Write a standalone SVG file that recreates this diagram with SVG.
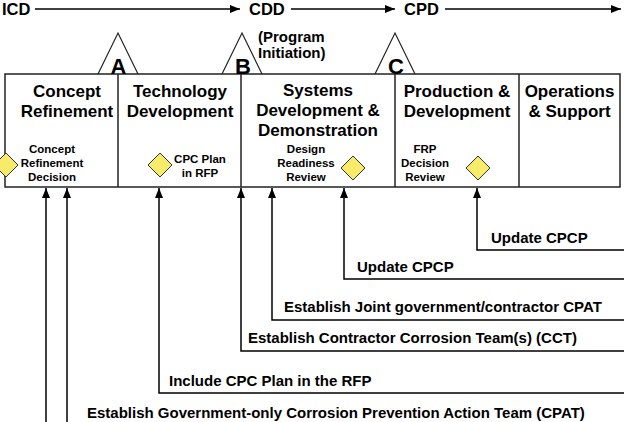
<svg xmlns="http://www.w3.org/2000/svg" width="624" height="422" viewBox="0 0 624 422">
<defs>
<marker id="ah" markerUnits="userSpaceOnUse" markerWidth="10" markerHeight="10" viewBox="0 0 10 10" refX="10" refY="5" orient="auto">
<path d="M0,1 L10,5 L0,9 Z" fill="#000"/>
</marker>
<style>
text{font-family:"Liberation Sans",Arial,sans-serif;font-weight:bold;fill:#000}
.big{font-size:17px;text-anchor:middle}
.sm{font-size:11.5px;text-anchor:middle}
.lbl{font-size:15px}
.top{font-size:16.5px}
.ms{font-size:22px;text-anchor:middle}
.box{fill:#fff;stroke:#222;stroke-width:1.5}
.div{stroke:#222;stroke-width:1.5;fill:none}
.tri{fill:none;stroke:#222;stroke-width:1.2}
.dia{fill:#F9EB6A;stroke:#333;stroke-width:1}
.con{fill:none;stroke:#000;stroke-width:1.5}
.tl{fill:none;stroke:#000;stroke-width:1.3}
</style>
</defs>
<rect width="624" height="422" fill="#fff"/>

<g id="timeline">
<text class="top" x="2" y="15">ICD</text>
<line class="tl" x1="35" y1="9" x2="240" y2="9" marker-end="url(#ah)"/>
<text class="top" x="249" y="15">CDD</text>
<line class="tl" x1="291" y1="9" x2="395" y2="9" marker-end="url(#ah)"/>
<text class="top" x="404" y="15">CPD</text>
<line class="tl" x1="445" y1="9" x2="621" y2="9" marker-end="url(#ah)"/>
</g>

<g id="phases">
<rect class="box" x="5" y="74" width="615" height="113"/>
<line class="div" x1="118" y1="74" x2="118" y2="187"/>
<line class="div" x1="241" y1="74" x2="241" y2="187"/>
<line class="div" x1="395" y1="74" x2="395" y2="187"/>
<line class="div" x1="519" y1="74" x2="519" y2="187"/>
</g>

<g id="milestone-A">
<polyline class="tri" points="98,74 118,33 138,74"/>
<text class="ms" x="118.5" y="74">A</text>
</g>
<g id="milestone-B">
<polyline class="tri" points="222,74 242,33 262,74"/>
<text class="ms" x="243" y="74">B</text>
<text class="lbl" x="258" y="42">(Program</text>
<text class="lbl" x="258" y="58">Initiation)</text>
</g>
<g id="milestone-C">
<polyline class="tri" points="375,74 395,33 415,74"/>
<text class="ms" x="396" y="74">C</text>
</g>

<g id="concept-refinement">
<text class="big" x="67" y="97">Concept</text>
<text class="big" x="67" y="117">Refinement</text>
<polygon class="dia" points="6,153 18,165 6,177 -6,165"/>
<text class="sm" x="52" y="153">Concept</text>
<text class="sm" x="52" y="167">Refinement</text>
<text class="sm" x="52" y="181">Decision</text>
</g>

<g id="technology-development">
<text class="big" x="180" y="97">Technology</text>
<text class="big" x="180" y="117">Development</text>
<polygon class="dia" points="160,153 172,165 160,177 148,165"/>
<text class="sm" x="200" y="163">CPC Plan</text>
<text class="sm" x="200" y="177">in RFP</text>
</g>

<g id="systems-development">
<text class="big" x="318" y="96">Systems</text>
<text class="big" x="318" y="116">Development &amp;</text>
<text class="big" x="318" y="136">Demonstration</text>
<polygon class="dia" points="353,156 365,168 353,180 341,168"/>
<text class="sm" x="306" y="153">Design</text>
<text class="sm" x="306" y="167">Readiness</text>
<text class="sm" x="306" y="181">Review</text>
</g>

<g id="production-development">
<text class="big" x="457" y="97">Production &amp;</text>
<text class="big" x="457" y="117">Development</text>
<polygon class="dia" points="478,156 490,168 478,180 466,168"/>
<text class="sm" x="425" y="153">FRP</text>
<text class="sm" x="425" y="167">Decision</text>
<text class="sm" x="425" y="181">Review</text>
</g>

<g id="operations-support">
<text class="big" x="569.5" y="97">Operations</text>
<text class="big" x="569.5" y="117">&amp; Support</text>
</g>

<g id="connectors">
<path class="con" d="M624,250 H477 V188" marker-end="url(#ah)"/>
<path class="con" d="M624,279 H344 V188" marker-end="url(#ah)"/>
<path class="con" d="M624,320 H272 V188" marker-end="url(#ah)"/>
<path class="con" d="M624,351 H241 V188" marker-end="url(#ah)"/>
<path class="con" d="M624,393 H159 V188" marker-end="url(#ah)"/>
<path class="con" d="M67,430 V188" marker-end="url(#ah)"/>
<path class="con" d="M46,430 V188" marker-end="url(#ah)"/>
</g>

<g id="labels">
<text class="lbl" x="491" y="243">Update CPCP</text>
<text class="lbl" x="357" y="272">Update CPCP</text>
<text class="lbl" x="284" y="312">Establish Joint government/contractor CPAT</text>
<text class="lbl" x="248" y="343">Establish Contractor Corrosion Team(s) (CCT)</text>
<text class="lbl" x="169" y="386">Include CPC Plan in the RFP</text>
<text class="lbl" x="87" y="417.5">Establish Government-only Corrosion Prevention Action Team (CPAT)</text>
</g>
</svg>
